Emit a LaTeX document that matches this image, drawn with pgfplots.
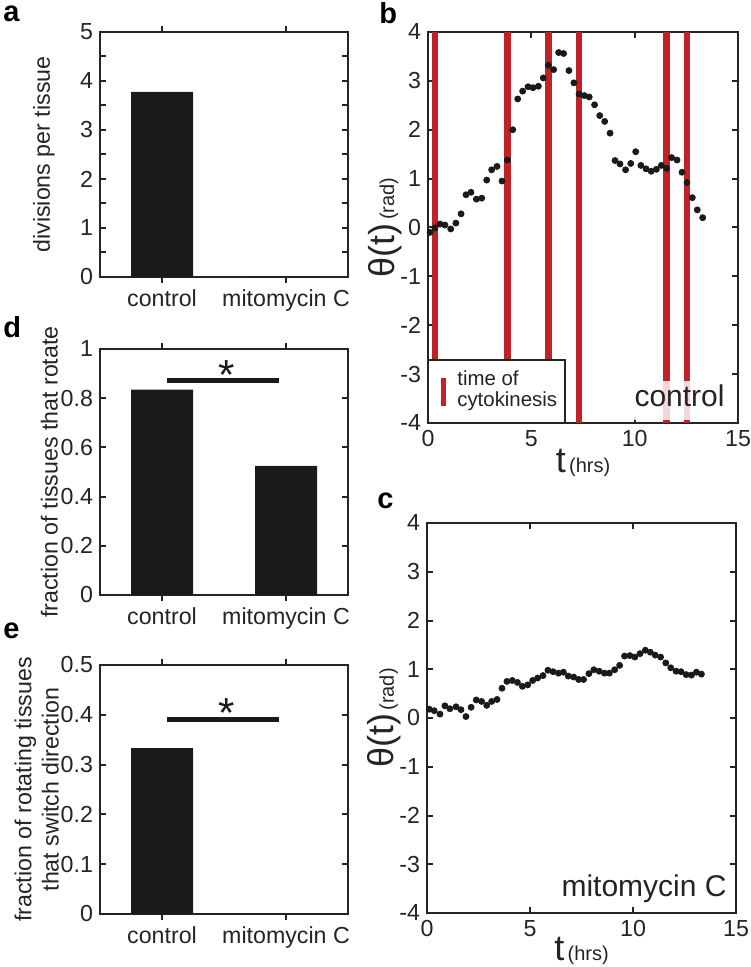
\documentclass[border=0pt]{standalone}
\usepackage{pgfplots}
\pgfplotsset{compat=1.18}
\usepackage{fontspec}
\setmainfont{Liberation Sans}
\definecolor{cytored}{RGB}{192,34,40}
\definecolor{barblack}{RGB}{26,26,26}
\definecolor{axgray}{RGB}{36,36,36}
\pgfplotsset{
  mat/.style={
    scale only axis, anchor=north west,
    axis line style={line width=1.2pt, axgray},
    every tick/.style={line width=1pt, axgray},
    major tick length=3pt, minor tick length=3pt,
    tick align=inside, xtick pos=both, ytick pos=both,
    xticklabel pos=lower, yticklabel pos=left,
    tick label style={font=\fontsize{11.6}{13}\selectfont, text=axgray},
    /pgf/number format/assume math mode=true,
    label style={text=axgray},
  },
  barax/.style={mat, xmin=0.5, xmax=2.5, xtick={1,2},
    xticklabels={control, mitomycin C}, ybar, bar width=0.5,
    ylabel style={font=\fontsize{11.6}{13.6}\selectfont, anchor=center, align=center}},
  timeax/.style={mat, xmin=0, xmax=15, ymin=-4, ymax=4,
    xtick={0,5,10,15}, ytick={-4,-3,-2,-1,0,1,2,3,4},
    ylabel={{\fontsize{18}{18}\selectfont θ(t)}\,{\fontsize{10}{10}\selectfont (rad)}},
    xlabel={{\fontsize{18}{18}\selectfont t}\,{\fontsize{10}{10}\selectfont (hrs)}},
    xlabel style={at={(axis description cs:0.5,0)}, anchor=base, yshift=-25pt},
  },
}
\begin{document}
\begin{tikzpicture}
\useasboundingbox (0,0) rectangle (375pt,-483.5pt);

% ---------- panel a ----------
\begin{axis}[barax, at={(50pt,-16pt)}, width=124pt, height=122.5pt,
  ymin=0, ymax=5, ytick={0,1,2,3,4,5}, minor ytick={0.5,1.5,2.5,3.5,4.5},
  ylabel={divisions per tissue},
  ylabel style={at={(axis description cs:-0.226,0.5)}}]
\addplot[fill=barblack, draw=none] coordinates {(1,3.78) (2,0)};
\end{axis}

% ---------- panel d ----------
\begin{axis}[barax, at={(50pt,-174.5pt)}, width=124pt, height=123pt,
  ymin=0, ymax=1, ytick={0,0.2,0.4,0.6,0.8,1},
  ylabel={fraction of tissues that rotate},
  ylabel style={at={(axis description cs:-0.204,0.5)}}]
\addplot[fill=barblack, draw=none] coordinates {(1,0.835) (2,0.525)};
\addplot[sharp plot, line width=2.5pt, barblack] coordinates {(1.04,0.87) (1.94,0.87)};
\node[font=\fontsize{21}{21}\selectfont, text=barblack, inner sep=0] at (axis cs:1.52,0.894) {*};
\end{axis}

% ---------- panel e ----------
\begin{axis}[barax, at={(50pt,-332.5pt)}, width=124pt, height=124.5pt,
  ymin=0, ymax=0.5, ytick={0,0.1,0.2,0.3,0.4,0.5},
  ylabel={fraction of rotating tissues\\that switch direction},
  ylabel style={at={(axis description cs:-0.255,0.5)}}]
\addplot[fill=barblack, draw=none] coordinates {(1,0.333) (2,0)};
\addplot[sharp plot, line width=2.5pt, barblack] coordinates {(1.04,0.39) (1.94,0.39)};
\node[font=\fontsize{21}{21}\selectfont, text=barblack, inner sep=0] at (axis cs:1.52,0.403) {*};
\end{axis}

% ---------- panel b ----------
\begin{axis}[timeax, at={(214pt,-16pt)}, width=155pt, height=195.5pt,
  ylabel style={at={(axis description cs:-0.139,0.5)}, anchor=center}]
\addplot[cytored, line width=3.3pt, unbounded coords=jump] coordinates {
 (0.34,-4) (0.34,4) (0.34,nan)
 (3.84,-4) (3.84,4) (3.84,nan)
 (5.82,-4) (5.82,4) (5.82,nan)
 (7.31,-4) (7.31,4) (7.31,nan)
 (11.55,-4) (11.55,4) (11.55,nan)
 (12.53,-4) (12.53,4)};
\addplot[only marks, mark=*, mark size=1.5pt, color=barblack] coordinates {
 (0.10,-0.10) (0.34,-0.01) (0.58,0.07) (0.82,0.05) (1.10,-0.03) (1.35,0.09)
 (1.60,0.28) (1.84,0.67) (2.08,0.72) (2.34,0.58) (2.60,0.60) (2.84,0.97)
 (3.08,1.18) (3.34,1.25) (3.58,0.95) (3.84,1.38) (4.10,2.00) (4.34,2.63)
 (4.58,2.79) (4.84,2.88) (5.08,2.86) (5.34,2.89) (5.58,3.06) (5.82,3.32)
 (6.08,3.23) (6.32,3.58) (6.56,3.56) (6.82,3.21) (7.06,2.96) (7.31,2.73)
 (7.56,2.70) (7.80,2.67) (8.06,2.51) (8.31,2.29) (8.55,2.17) (8.81,1.93)
 (9.05,1.37) (9.29,1.30) (9.56,1.18) (9.81,1.31) (10.05,1.55) (10.30,1.27)
 (10.55,1.20) (10.80,1.15) (11.05,1.19) (11.29,1.27) (11.55,1.21) (11.79,1.43)
 (12.05,1.38) (12.29,1.13) (12.53,0.92) (12.79,0.61) (13.03,0.36) (13.29,0.20)};
% legend box
\draw[line width=1pt, axgray, fill=white] (axis cs:0,-4) rectangle (axis cs:6.63,-2.71);
\draw[cytored, line width=2.5pt] (axis cs:0.73,-3.65) -- (axis cs:0.73,-3.08);
\node[anchor=base west, font=\fontsize{10.2}{12}\selectfont, inner sep=0, text=axgray] at (axis cs:1.40,-3.24) {time of};
\node[anchor=base west, font=\fontsize{10.2}{12}\selectfont, inner sep=0, text=axgray] at (axis cs:1.40,-3.66) {cytokinesis};
% label
\fill[white, fill opacity=0.82] (axis cs:9.9,-3.93) rectangle (axis cs:14.7,-3.15);
\node[anchor=base east, font=\fontsize{15}{15}\selectfont, inner sep=0, text=axgray] at (axis cs:14.37,-3.66) {control};
\end{axis}

% ---------- panel c ----------
\begin{axis}[timeax, at={(213.5pt,-261.5pt)}, width=154.5pt, height=195pt,
  xlabel style={yshift=1.5pt},
  ylabel style={at={(axis description cs:-0.1375,0.5)}, anchor=center}]
\addplot[only marks, mark=*, mark size=1.5pt, color=barblack] coordinates {
 (0.11,0.18) (0.35,0.15) (0.63,0.08) (0.87,0.25) (1.11,0.19) (1.41,0.23)
 (1.65,0.17) (1.89,0.03) (2.14,0.22) (2.39,0.37) (2.65,0.34) (2.90,0.26)
 (3.14,0.34) (3.40,0.38) (3.64,0.61) (3.88,0.75) (4.14,0.77) (4.39,0.73)
 (4.63,0.65) (4.89,0.68) (5.13,0.77) (5.37,0.82) (5.63,0.87) (5.87,0.98)
 (6.12,0.95) (6.38,0.92) (6.62,0.94) (6.86,0.86) (7.12,0.84) (7.36,0.79)
 (7.60,0.79) (7.86,0.91) (8.10,0.99) (8.36,0.96) (8.61,0.92) (8.85,0.92)
 (9.11,0.99) (9.35,1.08) (9.59,1.27) (9.85,1.28) (10.09,1.25) (10.34,1.32)
 (10.60,1.39) (10.84,1.35) (11.08,1.29) (11.34,1.25) (11.59,1.13) (11.83,1.03)
 (12.09,0.96) (12.33,0.95) (12.58,0.89) (12.84,0.88) (13.08,0.94) (13.32,0.90)};
\node[anchor=base east, font=\fontsize{15}{15}\selectfont, inner sep=0, text=axgray] at (axis cs:14.56,-3.67) {mitomycin C};
\end{axis}

% ---------- panel letters ----------
\node[anchor=base west, font=\bfseries\fontsize{14.5}{14.5}\selectfont, inner sep=0] at (1.5pt,-11pt) {a};
\node[anchor=base west, font=\bfseries\fontsize{14.5}{14.5}\selectfont, inner sep=0] at (189.5pt,-12pt) {b};
\node[anchor=base west, font=\bfseries\fontsize{14.5}{14.5}\selectfont, inner sep=0] at (188.5pt,-254pt) {c};
\node[anchor=base west, font=\bfseries\fontsize{14.5}{14.5}\selectfont, inner sep=0] at (1.5pt,-169pt) {d};
\node[anchor=base west, font=\bfseries\fontsize{14.5}{14.5}\selectfont, inner sep=0] at (1.5pt,-319pt) {e};
\end{tikzpicture}
\end{document}
